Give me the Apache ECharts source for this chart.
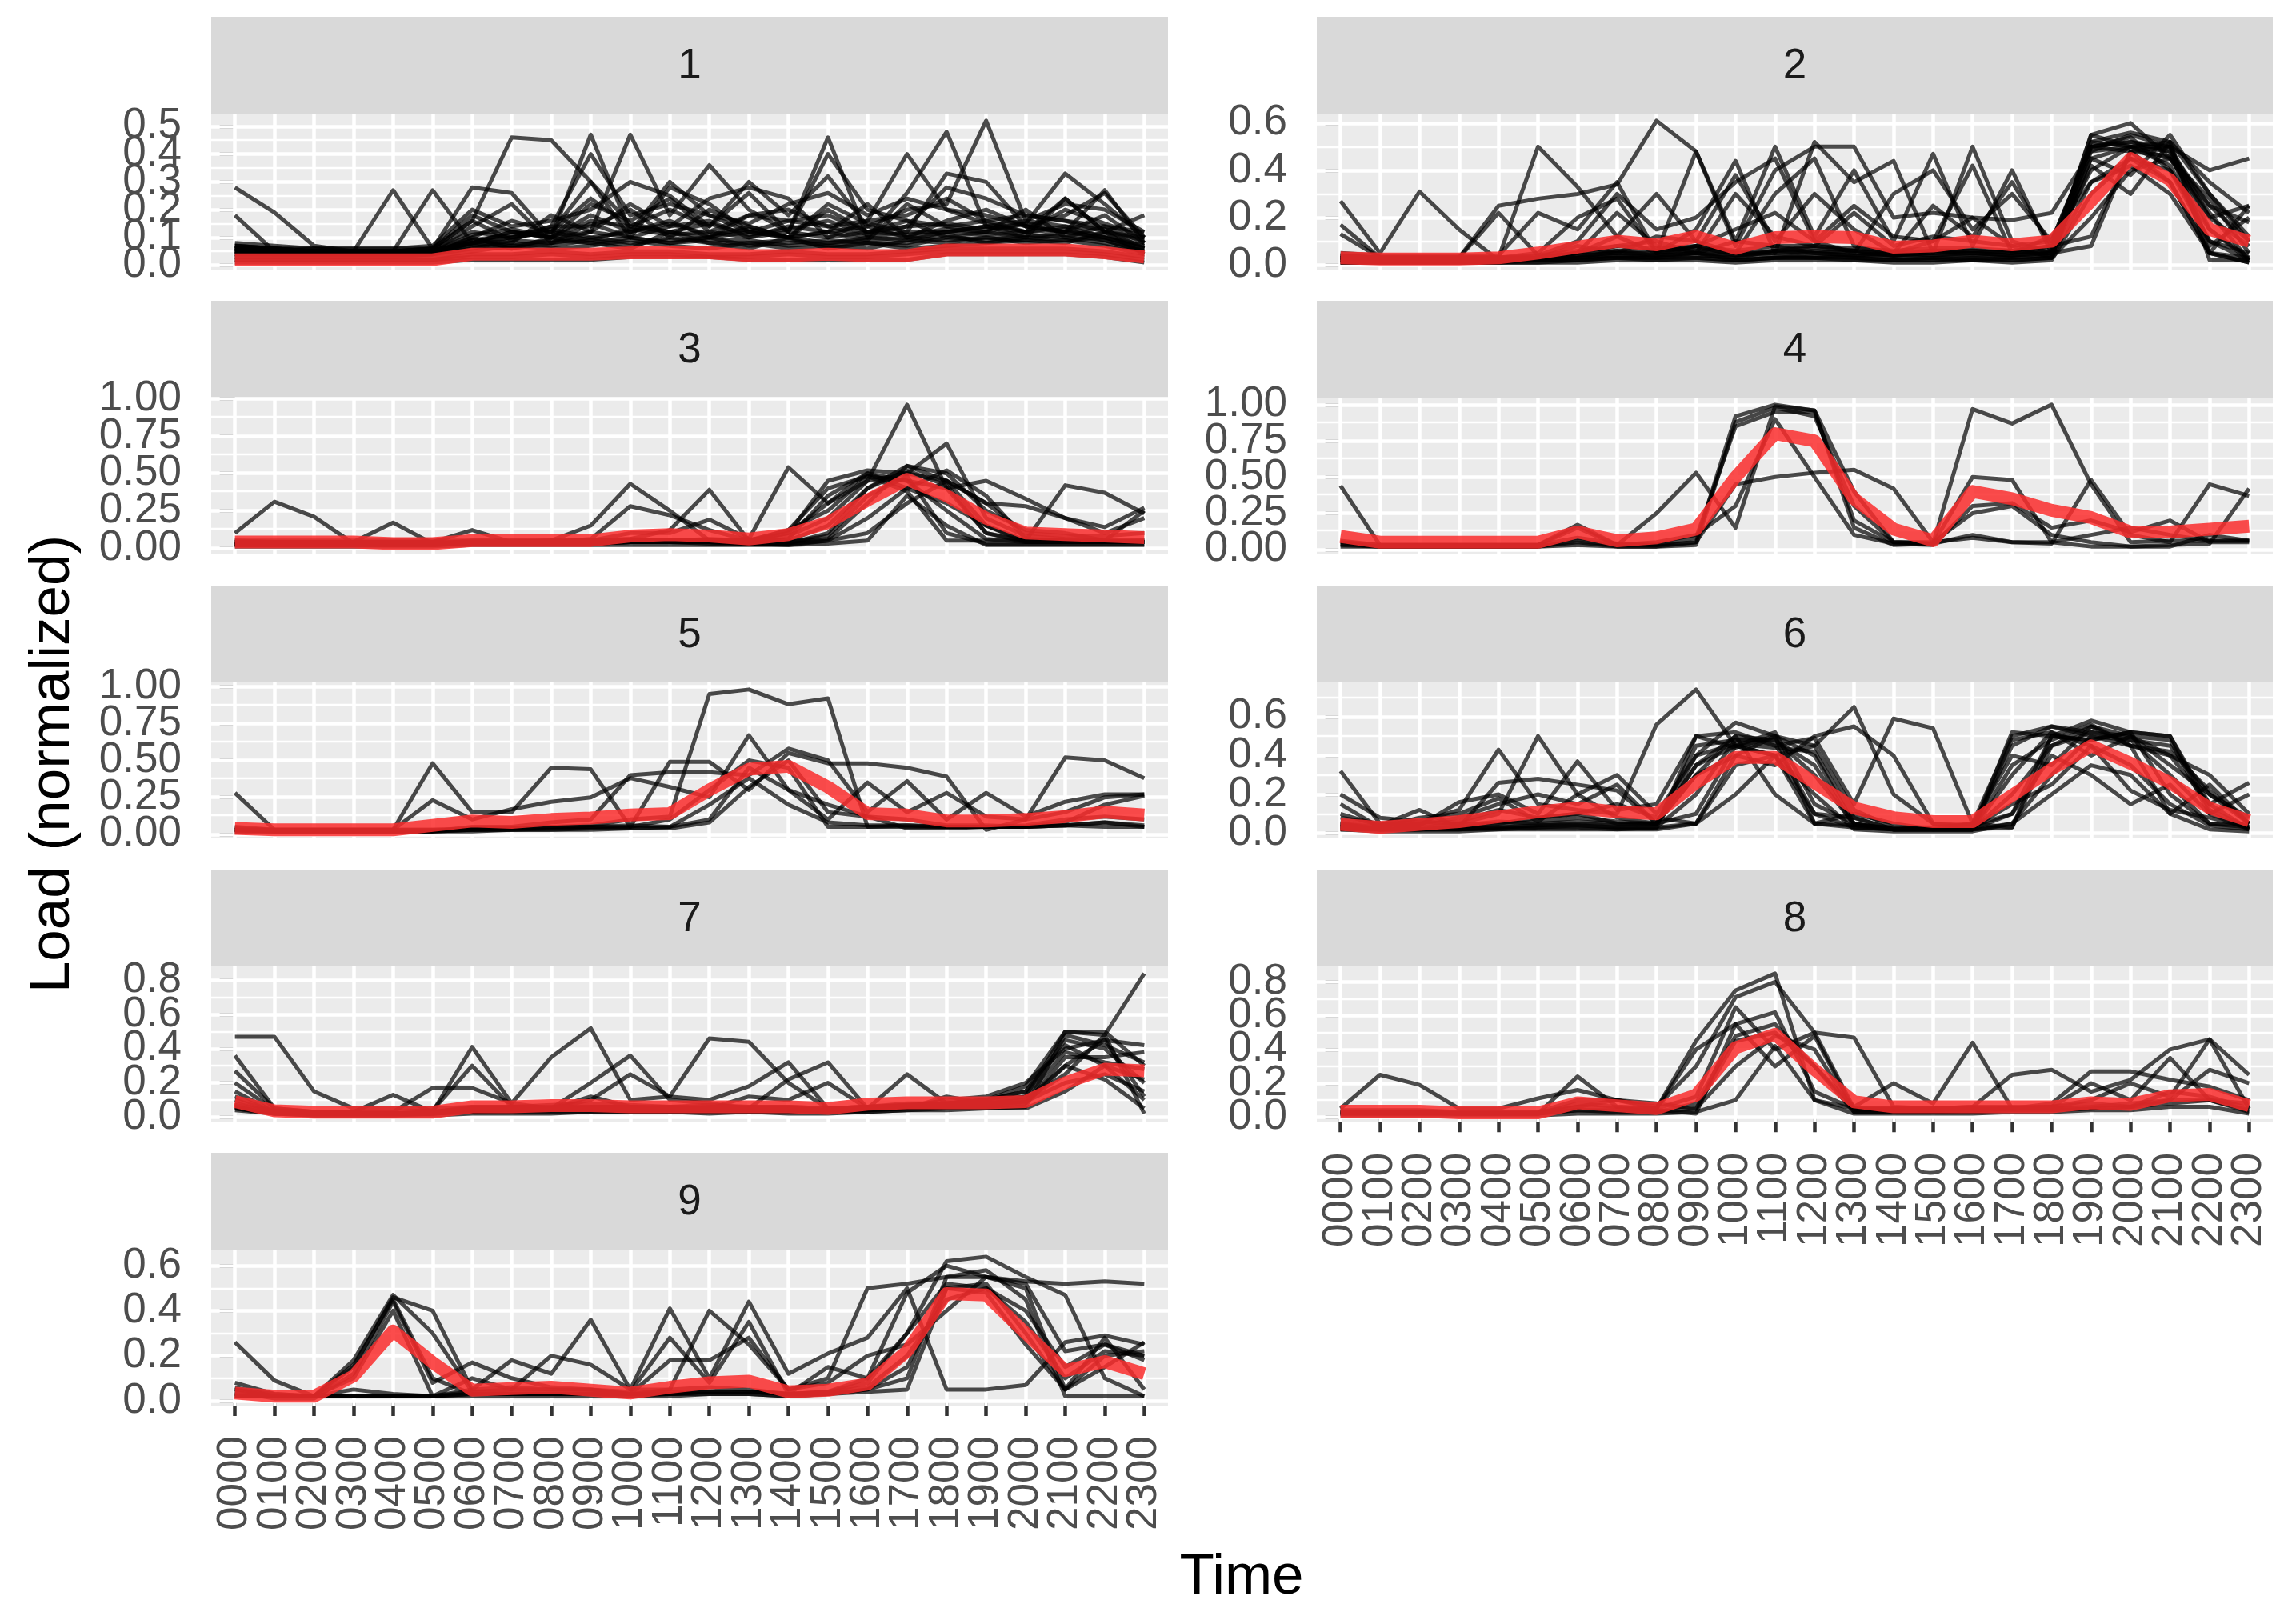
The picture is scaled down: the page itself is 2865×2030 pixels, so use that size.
<!DOCTYPE html>
<html>
<head>
<meta charset="utf-8">
<script src="https://cdn.jsdelivr.net/npm/echarts@6/dist/echarts.min.js"></script>
<style>
html,body{margin:0;padding:0;background:#ffffff;}
#chart{width:2865px;height:2030px;}
</style>
</head>
<body>
<div id="chart"></div>
<script>
// ---------------- data ----------------
const hours = ['0000','0100','0200','0300','0400','0500','0600','0700','0800','0900','1000','1100',
               '1200','1300','1400','1500','1600','1700','1800','1900','2000','2100','2200','2300'];
const clusterNames = ['1','2','3','4','5','6','7','8','9'];

const c1Lines = [
  [0.28,0.19,0.07,0.05,0.05,0.05,0.08,0.10,0.12,0.30,0.15,0.12,0.10,0.14,0.10,0.12,0.09,0.22,0.14,0.12,0.15,0.33,0.22,0.10],
  [0.18,0.05,0.06,0.05,0.05,0.06,0.28,0.26,0.10,0.47,0.12,0.30,0.18,0.12,0.10,0.22,0.15,0.12,0.33,0.30,0.14,0.12,0.27,0.08],
  [0.06,0.05,0.05,0.05,0.27,0.06,0.16,0.46,0.45,0.30,0.10,0.14,0.24,0.28,0.24,0.10,0.16,0.40,0.20,0.15,0.12,0.20,0.15,0.10],
  [0.07,0.06,0.05,0.05,0.05,0.27,0.08,0.12,0.10,0.12,0.47,0.18,0.36,0.20,0.12,0.46,0.10,0.26,0.48,0.14,0.10,0.24,0.12,0.18],
  [0.08,0.07,0.06,0.06,0.06,0.07,0.20,0.14,0.16,0.20,0.30,0.25,0.14,0.30,0.18,0.32,0.14,0.20,0.22,0.52,0.16,0.22,0.20,0.12],
  [0.06,0.06,0.05,0.05,0.05,0.06,0.12,0.10,0.14,0.40,0.18,0.22,0.18,0.15,0.22,0.26,0.18,0.24,0.20,0.18,0.14,0.18,0.26,0.10],
  [0.05,0.05,0.04,0.04,0.04,0.05,0.14,0.22,0.08,0.15,0.10,0.28,0.22,0.12,0.16,0.18,0.12,0.14,0.28,0.24,0.18,0.16,0.14,0.08],
  [0.07,0.06,0.05,0.05,0.05,0.05,0.10,0.16,0.12,0.24,0.14,0.20,0.14,0.26,0.12,0.40,0.20,0.16,0.14,0.16,0.12,0.24,0.12,0.09],
  [0.06,0.05,0.05,0.05,0.05,0.05,0.09,0.08,0.18,0.12,0.22,0.14,0.16,0.10,0.14,0.12,0.22,0.10,0.16,0.20,0.14,0.12,0.18,0.08],
  [0.05,0.05,0.04,0.04,0.04,0.05,0.08,0.12,0.10,0.18,0.12,0.16,0.10,0.18,0.16,0.14,0.10,0.12,0.12,0.14,0.16,0.14,0.10,0.07],
  [0.04,0.04,0.04,0.04,0.04,0.04,0.07,0.06,0.08,0.10,0.08,0.09,0.10,0.07,0.08,0.09,0.08,0.07,0.10,0.09,0.11,0.10,0.08,0.05],
  [0.03,0.03,0.03,0.03,0.03,0.03,0.05,0.07,0.06,0.07,0.09,0.07,0.06,0.08,0.06,0.07,0.06,0.09,0.08,0.10,0.08,0.09,0.07,0.04],
  [0.06,0.05,0.05,0.05,0.05,0.05,0.08,0.10,0.12,0.09,0.13,0.11,0.12,0.10,0.12,0.10,0.12,0.11,0.13,0.12,0.10,0.12,0.10,0.06],
  [0.01,0.01,0.01,0.01,0.01,0.01,0.02,0.02,0.02,0.02,0.03,0.03,0.03,0.02,0.02,0.02,0.02,0.02,0.04,0.04,0.04,0.04,0.03,0.01],
  [0.02,0.02,0.02,0.02,0.02,0.02,0.04,0.04,0.05,0.04,0.05,0.05,0.04,0.04,0.05,0.04,0.04,0.05,0.06,0.06,0.06,0.06,0.05,0.03],
  [0.05,0.04,0.04,0.04,0.04,0.04,0.06,0.09,0.08,0.12,0.10,0.08,0.10,0.12,0.10,0.08,0.10,0.09,0.12,0.11,0.12,0.13,0.09,0.05],
  [0.03,0.03,0.03,0.03,0.03,0.04,0.10,0.06,0.10,0.08,0.06,0.12,0.08,0.06,0.10,0.06,0.08,0.06,0.07,0.08,0.09,0.08,0.12,0.04],
  [0.07,0.06,0.05,0.05,0.05,0.06,0.16,0.09,0.14,0.14,0.20,0.10,0.20,0.14,0.10,0.20,0.12,0.16,0.10,0.12,0.20,0.10,0.14,0.12],
  [0.06,0.05,0.05,0.05,0.05,0.05,0.11,0.13,0.10,0.16,0.14,0.12,0.15,0.11,0.13,0.16,0.11,0.14,0.15,0.13,0.15,0.12,0.11,0.07],
  [0.05,0.05,0.05,0.05,0.05,0.05,0.09,0.11,0.13,0.10,0.12,0.15,0.11,0.13,0.10,0.12,0.14,0.10,0.12,0.14,0.12,0.14,0.13,0.06],
  [0.04,0.04,0.04,0.04,0.04,0.04,0.08,0.07,0.09,0.08,0.10,0.08,0.09,0.09,0.07,0.08,0.09,0.10,0.09,0.10,0.09,0.11,0.09,0.05],
  [0.05,0.05,0.05,0.05,0.05,0.05,0.07,0.08,0.07,0.09,0.07,0.10,0.08,0.08,0.09,0.07,0.08,0.08,0.11,0.08,0.10,0.09,0.10,0.06],
  [0.02,0.02,0.02,0.02,0.02,0.02,0.03,0.03,0.04,0.03,0.04,0.04,0.03,0.03,0.04,0.03,0.03,0.04,0.05,0.05,0.05,0.05,0.04,0.02],
  [0.06,0.06,0.06,0.06,0.06,0.06,0.18,0.12,0.10,0.22,0.16,0.24,0.12,0.18,0.20,0.14,0.16,0.18,0.24,0.16,0.18,0.16,0.12,0.10]
];
const c1Mean = [0.02,0.02,0.02,0.02,0.02,0.02,0.04,0.04,0.04,0.04,0.045,0.045,0.045,0.035,0.035,0.04,0.035,0.035,0.055,0.055,0.055,0.055,0.045,0.03];

const c2Lines = [
  [0.27,0.05,0.31,0.15,0.02,0.02,0.05,0.08,0.10,0.05,0.10,0.08,0.05,0.06,0.04,0.05,0.06,0.05,0.08,0.40,0.50,0.42,0.10,0.05],
  [0.17,0.03,0.03,0.03,0.03,0.50,0.33,0.12,0.30,0.10,0.38,0.10,0.30,0.15,0.05,0.10,0.20,0.08,0.10,0.50,0.52,0.50,0.15,0.02],
  [0.13,0.03,0.03,0.03,0.25,0.28,0.30,0.34,0.61,0.48,0.08,0.40,0.50,0.50,0.20,0.22,0.20,0.19,0.22,0.48,0.50,0.50,0.40,0.45],
  [0.05,0.04,0.04,0.04,0.04,0.22,0.15,0.35,0.05,0.48,0.10,0.50,0.12,0.40,0.10,0.47,0.08,0.40,0.05,0.55,0.60,0.45,0.20,0.25],
  [0.04,0.03,0.03,0.03,0.03,0.05,0.20,0.28,0.05,0.15,0.44,0.05,0.52,0.35,0.44,0.05,0.50,0.10,0.05,0.45,0.38,0.55,0.30,0.10],
  [0.03,0.03,0.03,0.03,0.22,0.04,0.10,0.30,0.15,0.20,0.35,0.45,0.10,0.05,0.30,0.40,0.15,0.30,0.10,0.50,0.48,0.35,0.05,0.25],
  [0.04,0.03,0.03,0.03,0.03,0.03,0.05,0.12,0.05,0.08,0.15,0.22,0.10,0.25,0.12,0.10,0.42,0.05,0.12,0.35,0.45,0.40,0.10,0.02],
  [0.02,0.02,0.02,0.02,0.02,0.03,0.08,0.05,0.12,0.10,0.05,0.30,0.45,0.08,0.05,0.25,0.12,0.35,0.08,0.52,0.56,0.52,0.02,0.02],
  [0.03,0.03,0.03,0.03,0.03,0.03,0.05,0.22,0.08,0.05,0.30,0.12,0.08,0.22,0.08,0.12,0.10,0.08,0.03,0.35,0.42,0.30,0.05,0.03],
  [0.03,0.02,0.02,0.02,0.02,0.02,0.03,0.06,0.04,0.08,0.04,0.06,0.08,0.06,0.04,0.06,0.05,0.06,0.04,0.45,0.50,0.48,0.25,0.18],
  [0.02,0.02,0.02,0.02,0.02,0.03,0.04,0.05,0.04,0.05,0.03,0.06,0.05,0.04,0.05,0.04,0.05,0.04,0.06,0.50,0.52,0.48,0.05,0.01],
  [0.01,0.01,0.01,0.01,0.01,0.01,0.02,0.04,0.03,0.05,0.02,0.03,0.04,0.03,0.02,0.03,0.02,0.03,0.03,0.20,0.40,0.45,0.22,0.02],
  [0.02,0.02,0.02,0.02,0.02,0.02,0.03,0.03,0.03,0.04,0.03,0.04,0.03,0.04,0.03,0.03,0.04,0.03,0.04,0.42,0.30,0.52,0.30,0.12],
  [0.03,0.03,0.03,0.03,0.03,0.03,0.04,0.05,0.05,0.06,0.05,0.05,0.06,0.05,0.04,0.05,0.05,0.04,0.05,0.08,0.48,0.50,0.08,0.20],
  [0.01,0.01,0.01,0.01,0.01,0.01,0.01,0.02,0.02,0.02,0.01,0.02,0.02,0.02,0.01,0.01,0.02,0.01,0.02,0.30,0.45,0.35,0.05,0.01],
  [0.02,0.02,0.02,0.02,0.02,0.02,0.02,0.03,0.03,0.03,0.02,0.03,0.03,0.02,0.02,0.02,0.02,0.02,0.03,0.55,0.50,0.45,0.28,0.05],
  [0.02,0.02,0.02,0.02,0.02,0.02,0.03,0.04,0.04,0.05,0.04,0.05,0.05,0.04,0.04,0.04,0.04,0.04,0.05,0.48,0.55,0.50,0.20,0.08],
  [0.03,0.03,0.03,0.03,0.03,0.03,0.05,0.06,0.06,0.07,0.05,0.06,0.07,0.06,0.05,0.06,0.06,0.05,0.06,0.52,0.50,0.52,0.35,0.22],
  [0.01,0.01,0.01,0.01,0.01,0.02,0.02,0.03,0.02,0.03,0.02,0.03,0.03,0.03,0.02,0.02,0.03,0.02,0.03,0.50,0.54,0.40,0.15,0.03],
  [0.04,0.03,0.03,0.03,0.03,0.04,0.06,0.08,0.07,0.08,0.06,0.08,0.08,0.07,0.06,0.07,0.07,0.06,0.08,0.12,0.48,0.46,0.25,0.10]
];
const c2Mean = [0.03,0.025,0.025,0.025,0.03,0.05,0.075,0.10,0.085,0.12,0.07,0.115,0.12,0.115,0.075,0.08,0.10,0.085,0.10,0.27,0.45,0.36,0.15,0.10];

const c3Lines = [
  [0.10,0.31,0.21,0.03,0.03,0.03,0.04,0.04,0.05,0.05,0.06,0.05,0.06,0.05,0.10,0.30,0.50,0.40,0.30,0.15,0.05,0.42,0.37,0.23],
  [0.05,0.04,0.04,0.04,0.17,0.03,0.04,0.04,0.05,0.15,0.43,0.25,0.05,0.06,0.54,0.30,0.45,0.96,0.40,0.10,0.04,0.04,0.04,0.05],
  [0.04,0.04,0.04,0.04,0.04,0.04,0.12,0.04,0.04,0.06,0.28,0.22,0.12,0.05,0.10,0.45,0.52,0.50,0.70,0.20,0.08,0.06,0.05,0.05],
  [0.03,0.03,0.03,0.03,0.03,0.03,0.05,0.05,0.05,0.05,0.06,0.12,0.39,0.05,0.12,0.25,0.48,0.45,0.40,0.45,0.33,0.20,0.14,0.27],
  [0.04,0.04,0.04,0.04,0.04,0.04,0.04,0.04,0.04,0.05,0.10,0.10,0.19,0.06,0.05,0.15,0.40,0.55,0.50,0.25,0.12,0.10,0.05,0.25],
  [0.02,0.02,0.02,0.02,0.02,0.02,0.03,0.03,0.03,0.03,0.04,0.04,0.04,0.03,0.02,0.05,0.20,0.40,0.52,0.35,0.06,0.05,0.05,0.04],
  [0.03,0.03,0.03,0.03,0.03,0.03,0.03,0.03,0.03,0.03,0.04,0.04,0.04,0.03,0.04,0.08,0.35,0.48,0.10,0.03,0.03,0.03,0.03,0.03],
  [0.02,0.02,0.02,0.02,0.02,0.02,0.03,0.03,0.03,0.03,0.04,0.04,0.03,0.03,0.03,0.05,0.10,0.30,0.45,0.30,0.10,0.08,0.08,0.10],
  [0.05,0.05,0.05,0.05,0.05,0.05,0.05,0.05,0.05,0.05,0.05,0.05,0.05,0.05,0.12,0.40,0.48,0.38,0.05,0.05,0.05,0.05,0.04,0.04],
  [0.03,0.03,0.03,0.03,0.03,0.03,0.03,0.04,0.04,0.04,0.05,0.05,0.05,0.04,0.08,0.20,0.45,0.50,0.45,0.15,0.04,0.04,0.04,0.04],
  [0.01,0.01,0.01,0.01,0.01,0.01,0.02,0.02,0.02,0.02,0.02,0.02,0.02,0.02,0.02,0.03,0.05,0.35,0.15,0.02,0.02,0.02,0.02,0.02],
  [0.03,0.03,0.03,0.03,0.03,0.03,0.04,0.04,0.04,0.04,0.05,0.05,0.05,0.04,0.04,0.06,0.30,0.55,0.45,0.30,0.28,0.20,0.10,0.20],
  [0.03,0.03,0.03,0.03,0.03,0.03,0.04,0.04,0.04,0.04,0.05,0.05,0.05,0.04,0.06,0.35,0.50,0.45,0.25,0.06,0.04,0.04,0.04,0.04],
  [0.02,0.02,0.02,0.02,0.02,0.02,0.03,0.03,0.03,0.03,0.04,0.04,0.04,0.03,0.03,0.10,0.40,0.52,0.42,0.10,0.05,0.05,0.05,0.05]
];
const c3Mean = [0.04,0.04,0.04,0.04,0.03,0.03,0.05,0.05,0.05,0.05,0.08,0.09,0.08,0.06,0.09,0.17,0.32,0.46,0.35,0.20,0.10,0.09,0.08,0.07];

const c4Lines = [
  [0.44,0.03,0.03,0.03,0.03,0.03,0.15,0.03,0.25,0.53,0.15,0.99,0.96,0.40,0.05,0.04,0.10,0.05,0.04,0.48,0.10,0.05,0.45,0.37],
  [0.05,0.03,0.03,0.03,0.03,0.03,0.17,0.03,0.03,0.05,0.92,1.00,0.96,0.15,0.03,0.04,0.50,0.48,0.05,0.02,0.02,0.03,0.04,0.42],
  [0.03,0.02,0.02,0.02,0.02,0.02,0.05,0.02,0.02,0.05,0.45,0.50,0.53,0.55,0.42,0.05,0.25,0.30,0.10,0.05,0.02,0.02,0.10,0.06],
  [0.02,0.02,0.02,0.02,0.02,0.02,0.03,0.02,0.02,0.03,0.88,0.98,0.92,0.30,0.05,0.04,0.97,0.87,1.00,0.45,0.05,0.06,0.06,0.06],
  [0.06,0.03,0.03,0.03,0.03,0.03,0.08,0.04,0.03,0.08,0.85,0.95,0.95,0.20,0.05,0.05,0.08,0.05,0.05,0.10,0.15,0.10,0.06,0.06],
  [0.04,0.02,0.02,0.02,0.02,0.02,0.06,0.03,0.05,0.10,0.30,0.90,0.50,0.10,0.04,0.03,0.30,0.32,0.15,0.20,0.12,0.20,0.05,0.05]
];
const c4Mean = [0.09,0.05,0.05,0.05,0.05,0.05,0.12,0.06,0.08,0.14,0.50,0.80,0.75,0.35,0.14,0.06,0.40,0.35,0.27,0.22,0.12,0.12,0.14,0.16];

const c5Lines = [
  [0.28,0.03,0.03,0.03,0.03,0.03,0.03,0.04,0.05,0.06,0.10,0.12,0.95,0.98,0.88,0.92,0.05,0.05,0.05,0.05,0.05,0.06,0.05,0.05],
  [0.05,0.03,0.03,0.03,0.03,0.48,0.15,0.15,0.45,0.44,0.05,0.49,0.49,0.30,0.55,0.48,0.48,0.45,0.39,0.03,0.10,0.52,0.50,0.38],
  [0.04,0.03,0.03,0.03,0.03,0.23,0.10,0.17,0.22,0.25,0.38,0.32,0.25,0.67,0.30,0.10,0.35,0.15,0.28,0.12,0.10,0.15,0.25,0.27],
  [0.03,0.02,0.02,0.02,0.02,0.02,0.05,0.05,0.08,0.10,0.40,0.42,0.42,0.40,0.58,0.50,0.15,0.36,0.10,0.28,0.12,0.22,0.27,0.27],
  [0.03,0.02,0.02,0.02,0.02,0.02,0.03,0.03,0.04,0.05,0.05,0.10,0.30,0.50,0.45,0.05,0.05,0.06,0.05,0.05,0.05,0.06,0.08,0.05],
  [0.02,0.02,0.02,0.02,0.02,0.02,0.03,0.03,0.03,0.04,0.04,0.05,0.20,0.38,0.20,0.08,0.06,0.06,0.05,0.05,0.05,0.06,0.08,0.06],
  [0.03,0.03,0.03,0.03,0.03,0.03,0.04,0.04,0.05,0.05,0.06,0.05,0.10,0.45,0.30,0.20,0.12,0.04,0.04,0.05,0.06,0.10,0.12,0.10],
  [0.02,0.02,0.02,0.02,0.02,0.02,0.02,0.03,0.03,0.03,0.04,0.04,0.08,0.32,0.50,0.15,0.12,0.10,0.06,0.06,0.05,0.08,0.20,0.26]
];
const c5Mean = [0.04,0.03,0.03,0.03,0.03,0.06,0.09,0.08,0.10,0.11,0.13,0.14,0.30,0.44,0.46,0.32,0.14,0.13,0.09,0.09,0.10,0.12,0.15,0.13];

const c6Lines = [
  [0.32,0.05,0.06,0.12,0.43,0.15,0.12,0.10,0.56,0.74,0.45,0.40,0.05,0.04,0.03,0.03,0.05,0.50,0.55,0.50,0.48,0.45,0.20,0.05],
  [0.20,0.08,0.06,0.05,0.10,0.50,0.20,0.30,0.10,0.40,0.57,0.50,0.45,0.65,0.20,0.05,0.04,0.10,0.50,0.58,0.52,0.50,0.15,0.26],
  [0.15,0.03,0.04,0.16,0.20,0.10,0.37,0.12,0.15,0.50,0.52,0.45,0.49,0.15,0.59,0.54,0.05,0.03,0.45,0.55,0.45,0.10,0.25,0.05],
  [0.10,0.04,0.12,0.03,0.26,0.28,0.25,0.22,0.05,0.35,0.45,0.52,0.15,0.05,0.02,0.02,0.02,0.48,0.52,0.40,0.50,0.40,0.30,0.10],
  [0.05,0.02,0.03,0.05,0.05,0.08,0.10,0.05,0.05,0.45,0.48,0.46,0.10,0.03,0.02,0.02,0.02,0.20,0.45,0.52,0.48,0.30,0.10,0.20],
  [0.08,0.05,0.05,0.08,0.15,0.20,0.15,0.25,0.05,0.30,0.40,0.35,0.50,0.55,0.40,0.05,0.03,0.15,0.25,0.45,0.22,0.12,0.08,0.03],
  [0.03,0.02,0.02,0.02,0.03,0.04,0.04,0.03,0.03,0.05,0.40,0.50,0.40,0.05,0.02,0.02,0.02,0.05,0.30,0.50,0.45,0.40,0.15,0.02],
  [0.06,0.03,0.08,0.10,0.18,0.06,0.20,0.08,0.05,0.30,0.50,0.20,0.05,0.10,0.05,0.02,0.02,0.10,0.40,0.30,0.15,0.25,0.05,0.05],
  [0.04,0.02,0.02,0.03,0.03,0.04,0.05,0.04,0.05,0.10,0.45,0.40,0.45,0.12,0.03,0.02,0.02,0.03,0.50,0.48,0.52,0.50,0.12,0.03],
  [0.02,0.02,0.02,0.02,0.02,0.03,0.03,0.02,0.03,0.20,0.48,0.48,0.30,0.05,0.02,0.02,0.02,0.30,0.52,0.45,0.35,0.15,0.04,0.02],
  [0.05,0.03,0.05,0.06,0.12,0.08,0.10,0.15,0.08,0.05,0.20,0.40,0.10,0.08,0.02,0.02,0.05,0.40,0.35,0.55,0.50,0.35,0.20,0.08],
  [0.02,0.01,0.01,0.01,0.02,0.02,0.02,0.02,0.02,0.05,0.35,0.40,0.20,0.02,0.01,0.01,0.01,0.05,0.20,0.35,0.30,0.10,0.02,0.01],
  [0.03,0.02,0.02,0.03,0.05,0.06,0.08,0.06,0.05,0.35,0.50,0.48,0.35,0.04,0.02,0.02,0.02,0.45,0.55,0.52,0.50,0.48,0.10,0.02],
  [0.04,0.02,0.03,0.04,0.06,0.05,0.06,0.05,0.05,0.40,0.46,0.44,0.42,0.08,0.02,0.02,0.02,0.35,0.48,0.56,0.45,0.42,0.22,0.05],
  [0.02,0.02,0.02,0.02,0.03,0.03,0.04,0.03,0.03,0.50,0.44,0.50,0.05,0.03,0.02,0.02,0.02,0.52,0.50,0.48,0.52,0.20,0.05,0.03]
];
const c6Mean = [0.045,0.03,0.045,0.06,0.085,0.11,0.13,0.11,0.10,0.26,0.39,0.39,0.26,0.13,0.08,0.06,0.06,0.195,0.33,0.45,0.36,0.26,0.13,0.065];

const c7Lines = [
  [0.47,0.47,0.15,0.05,0.05,0.05,0.06,0.06,0.07,0.08,0.07,0.06,0.07,0.06,0.06,0.05,0.06,0.07,0.08,0.10,0.12,0.50,0.48,0.84],
  [0.36,0.05,0.03,0.03,0.13,0.03,0.41,0.08,0.35,0.52,0.10,0.12,0.46,0.44,0.20,0.05,0.06,0.08,0.08,0.10,0.15,0.45,0.40,0.20],
  [0.27,0.05,0.03,0.03,0.03,0.17,0.17,0.08,0.05,0.20,0.36,0.10,0.08,0.05,0.22,0.32,0.05,0.25,0.08,0.10,0.18,0.50,0.50,0.30],
  [0.20,0.04,0.03,0.03,0.03,0.04,0.30,0.06,0.05,0.10,0.25,0.12,0.10,0.18,0.32,0.05,0.06,0.06,0.10,0.12,0.20,0.40,0.45,0.42],
  [0.15,0.03,0.02,0.02,0.02,0.03,0.05,0.04,0.05,0.12,0.06,0.05,0.05,0.12,0.10,0.20,0.05,0.05,0.12,0.08,0.10,0.30,0.45,0.12],
  [0.10,0.03,0.02,0.02,0.02,0.02,0.04,0.05,0.04,0.05,0.05,0.06,0.05,0.05,0.05,0.04,0.05,0.06,0.07,0.08,0.10,0.25,0.48,0.02],
  [0.05,0.02,0.01,0.01,0.01,0.01,0.02,0.02,0.02,0.03,0.03,0.03,0.02,0.03,0.02,0.02,0.03,0.04,0.04,0.05,0.05,0.15,0.30,0.22],
  [0.08,0.03,0.02,0.02,0.02,0.02,0.04,0.04,0.04,0.04,0.04,0.04,0.04,0.04,0.04,0.03,0.04,0.05,0.06,0.06,0.08,0.35,0.35,0.38],
  [0.12,0.03,0.02,0.02,0.02,0.03,0.05,0.05,0.05,0.06,0.06,0.05,0.05,0.05,0.05,0.04,0.05,0.06,0.07,0.07,0.09,0.20,0.25,0.15],
  [0.06,0.02,0.02,0.02,0.02,0.02,0.03,0.03,0.03,0.03,0.03,0.03,0.03,0.03,0.03,0.03,0.03,0.04,0.05,0.05,0.06,0.48,0.42,0.32],
  [0.07,0.03,0.02,0.02,0.02,0.03,0.06,0.06,0.06,0.06,0.06,0.06,0.06,0.06,0.06,0.05,0.06,0.07,0.08,0.10,0.15,0.42,0.30,0.10],
  [0.05,0.02,0.02,0.02,0.02,0.02,0.05,0.05,0.05,0.05,0.05,0.05,0.05,0.05,0.05,0.04,0.05,0.06,0.07,0.08,0.12,0.38,0.32,0.28],
  [0.04,0.02,0.01,0.01,0.01,0.02,0.03,0.04,0.04,0.04,0.04,0.04,0.04,0.04,0.04,0.03,0.04,0.05,0.06,0.06,0.08,0.30,0.22,0.05]
];
const c7Mean = [0.09,0.036,0.028,0.028,0.028,0.028,0.06,0.06,0.067,0.067,0.06,0.06,0.06,0.06,0.06,0.05,0.075,0.083,0.083,0.083,0.09,0.20,0.28,0.27];

const c8Lines = [
  [0.05,0.25,0.19,0.05,0.05,0.11,0.16,0.10,0.08,0.05,0.45,0.50,0.30,0.06,0.20,0.08,0.44,0.05,0.06,0.10,0.20,0.12,0.46,0.05],
  [0.03,0.03,0.03,0.02,0.02,0.02,0.24,0.06,0.05,0.45,0.75,0.85,0.10,0.05,0.05,0.05,0.06,0.25,0.28,0.15,0.22,0.40,0.46,0.25],
  [0.04,0.04,0.04,0.03,0.03,0.03,0.10,0.10,0.06,0.30,0.71,0.80,0.50,0.47,0.06,0.05,0.05,0.05,0.08,0.27,0.27,0.22,0.18,0.10],
  [0.02,0.02,0.02,0.02,0.02,0.02,0.06,0.10,0.05,0.12,0.65,0.40,0.50,0.05,0.05,0.05,0.06,0.06,0.06,0.20,0.10,0.35,0.10,0.08],
  [0.03,0.03,0.03,0.02,0.02,0.02,0.08,0.06,0.05,0.40,0.55,0.30,0.48,0.04,0.04,0.04,0.05,0.05,0.05,0.05,0.06,0.10,0.28,0.20],
  [0.02,0.02,0.02,0.02,0.02,0.02,0.04,0.03,0.03,0.05,0.30,0.48,0.40,0.03,0.03,0.03,0.04,0.05,0.05,0.06,0.08,0.10,0.10,0.03],
  [0.01,0.01,0.01,0.01,0.01,0.01,0.02,0.02,0.02,0.03,0.10,0.42,0.10,0.02,0.02,0.02,0.02,0.03,0.03,0.04,0.04,0.06,0.06,0.02],
  [0.03,0.03,0.03,0.03,0.03,0.03,0.06,0.05,0.04,0.02,0.55,0.62,0.15,0.05,0.05,0.05,0.05,0.05,0.06,0.08,0.06,0.15,0.12,0.05],
  [0.02,0.02,0.02,0.02,0.02,0.02,0.04,0.04,0.03,0.08,0.48,0.55,0.30,0.03,0.03,0.03,0.03,0.04,0.04,0.05,0.06,0.08,0.10,0.04]
];
const c8Mean = [0.034,0.034,0.034,0.025,0.025,0.025,0.084,0.067,0.05,0.13,0.41,0.49,0.28,0.09,0.06,0.06,0.06,0.06,0.06,0.084,0.075,0.126,0.134,0.067];

const c9Lines = [
  [0.26,0.09,0.02,0.02,0.02,0.02,0.05,0.06,0.05,0.05,0.03,0.05,0.06,0.05,0.03,0.04,0.10,0.48,0.60,0.55,0.52,0.22,0.25,0.20],
  [0.08,0.03,0.02,0.15,0.46,0.40,0.05,0.18,0.12,0.36,0.05,0.41,0.10,0.44,0.12,0.21,0.28,0.50,0.05,0.05,0.07,0.26,0.29,0.25],
  [0.06,0.02,0.02,0.18,0.47,0.30,0.04,0.05,0.20,0.16,0.05,0.05,0.40,0.25,0.05,0.10,0.50,0.52,0.55,0.55,0.53,0.52,0.53,0.52],
  [0.04,0.01,0.01,0.12,0.44,0.08,0.17,0.10,0.06,0.05,0.04,0.28,0.08,0.35,0.03,0.15,0.10,0.30,0.62,0.64,0.55,0.47,0.10,0.02],
  [0.02,0.02,0.02,0.02,0.02,0.02,0.02,0.02,0.02,0.02,0.02,0.02,0.03,0.03,0.02,0.03,0.04,0.05,0.50,0.52,0.30,0.05,0.15,0.26],
  [0.05,0.03,0.02,0.10,0.40,0.02,0.10,0.05,0.05,0.05,0.03,0.18,0.18,0.28,0.05,0.08,0.20,0.25,0.40,0.55,0.50,0.05,0.28,0.05],
  [0.02,0.02,0.02,0.02,0.02,0.02,0.03,0.03,0.03,0.03,0.03,0.03,0.04,0.04,0.03,0.03,0.05,0.10,0.55,0.58,0.45,0.02,0.02,0.02],
  [0.03,0.02,0.02,0.05,0.03,0.02,0.04,0.04,0.04,0.04,0.03,0.04,0.04,0.04,0.03,0.04,0.06,0.20,0.45,0.50,0.35,0.10,0.22,0.20],
  [0.05,0.02,0.02,0.16,0.45,0.10,0.03,0.03,0.03,0.03,0.02,0.03,0.03,0.03,0.02,0.03,0.05,0.15,0.50,0.48,0.25,0.05,0.20,0.22],
  [0.02,0.02,0.02,0.02,0.02,0.02,0.03,0.03,0.03,0.03,0.03,0.03,0.04,0.04,0.03,0.04,0.08,0.30,0.52,0.50,0.40,0.15,0.25,0.18]
];
const c9Mean = [0.034,0.02,0.02,0.11,0.31,0.17,0.047,0.054,0.06,0.047,0.034,0.06,0.08,0.087,0.04,0.047,0.074,0.22,0.476,0.47,0.30,0.134,0.174,0.12];

// y-axis ticks and labels per cluster
const yTicks1 = [0,0.1,0.2,0.3,0.4,0.5];     const yLabels1 = ['0.0','0.1','0.2','0.3','0.4','0.5'];
const yTicks2 = [0,0.2,0.4,0.6];             const yLabels2 = ['0.0','0.2','0.4','0.6'];
const yTicks3 = [0,0.25,0.5,0.75,1];         const yLabels3 = ['0.00','0.25','0.50','0.75','1.00'];
const yTicks4 = [0,0.25,0.5,0.75,1];         const yLabels4 = ['0.00','0.25','0.50','0.75','1.00'];
const yTicks5 = [0,0.25,0.5,0.75,1];         const yLabels5 = ['0.00','0.25','0.50','0.75','1.00'];
const yTicks6 = [0,0.2,0.4,0.6];             const yLabels6 = ['0.0','0.2','0.4','0.6'];
const yTicks7 = [0,0.2,0.4,0.6,0.8];         const yLabels7 = ['0.0','0.2','0.4','0.6','0.8'];
const yTicks8 = [0,0.2,0.4,0.6,0.8];         const yLabels8 = ['0.0','0.2','0.4','0.6','0.8'];
const yTicks9 = [0,0.2,0.4,0.6];             const yLabels9 = ['0.0','0.2','0.4','0.6'];

const xTitle = 'Time';
const yTitle = 'Load (normalized)';

// ---------------- layout / style ----------------
const allLines = [c1Lines,c2Lines,c3Lines,c4Lines,c5Lines,c6Lines,c7Lines,c8Lines,c9Lines];
const allMeans = [c1Mean,c2Mean,c3Mean,c4Mean,c5Mean,c6Mean,c7Mean,c8Mean,c9Mean];
const allTicks = [yTicks1,yTicks2,yTicks3,yTicks4,yTicks5,yTicks6,yTicks7,yTicks8,yTicks9];
const allLabels = [yLabels1,yLabels2,yLabels3,yLabels4,yLabels5,yLabels6,yLabels7,yLabels8,yLabels9];

const FONT = '"Liberation Sans", Arial, sans-serif';
const colLeft = [264, 1646];
const colWidth = [1196, 1195];
const rowTop = [142, 497, 853, 1208, 1562];
const plotH = 195;
const stripH = 121;
const TICK_FS = 53;

const grids = [], xAxes = [], extraX = [], yAxes = [], series = [], graphics = [];
const hourIdx = hours.map((h, i) => i);
const evenHours = hourIdx.filter(i => i % 2 === 0);
const oddHours = hourIdx.filter(i => i % 2 === 1);

function labelFor(ticks, labels) {
  return v => { const k = ticks.findIndex(t => Math.abs(t - v) < 1e-9); return k >= 0 ? labels[k] : ''; };
}
function xLabelStyle(show, values) {
  return {show: show, customValues: values, rotate: 90, margin: 38, fontSize: TICK_FS,
    color: '#4D4D4D', fontFamily: FONT, hideOverlap: false, showMinLabel: true, showMaxLabel: true,
    interval: 0, formatter: v => hours[Math.round(v)]};
}

for (let p = 0; p < 9; p++) {
  const row = Math.floor(p / 2), col = p % 2;
  const left = colLeft[col], width = colWidth[col], top = rowTop[row];
  grids.push({left: left, top: top, width: width, height: plotH,
    show: true, backgroundColor: '#EBEBEB', borderWidth: 0, containLabel: false, outerBoundsMode: 'none'});

  // ggplot-like 5% expansion from data range
  let lo = Infinity, hi = -Infinity;
  allLines[p].forEach(a => a.forEach(v => { lo = Math.min(lo, v); hi = Math.max(hi, v); }));
  allMeans[p].forEach(v => { lo = Math.min(lo, v); hi = Math.max(hi, v); });
  const span = hi - lo;
  const yMin = lo - 0.05 * span, yMax = hi + 0.05 * span;

  const showX = (p === 7 || p === 8);
  xAxes.push({type: 'value', gridIndex: p, min: -0.6, max: 23.6, position: 'bottom',
    axisLine: {show: false}, splitLine: {show: false},
    axisTick: {show: showX, customValues: hourIdx.slice(), length: 19, lineStyle: {color: '#333333', width: 4.5}},
    axisLabel: xLabelStyle(showX, evenHours.slice())
  });
  if (showX) {
    // companion x axis carrying the odd-hour labels (avoids automatic hiding of overlapping labels)
    extraX.push({type: 'value', gridIndex: p, min: -0.6, max: 23.6, position: 'bottom', offset: 0,
      axisLine: {show: false}, splitLine: {show: false}, axisTick: {show: false},
      axisLabel: xLabelStyle(true, oddHours.slice())});
  }

  const ticks = allTicks[p], labels = allLabels[p];
  const evenT = ticks.filter((t, k) => k % 2 === 0);
  const oddT = ticks.filter((t, k) => k % 2 === 1);
  const fmt = labelFor(ticks, labels);
  yAxes.push({type: 'value', gridIndex: p, min: yMin, max: yMax, position: 'left',
    axisLine: {show: false}, splitLine: {show: false},
    axisTick: {show: true, customValues: ticks.slice(), length: 19, lineStyle: {color: '#333333', width: 4.5}},
    axisLabel: {show: true, customValues: evenT, margin: 37, fontSize: TICK_FS, color: '#4D4D4D',
      fontFamily: FONT, hideOverlap: false, showMinLabel: true, showMaxLabel: true, interval: 0, formatter: fmt}
  });
  yAxes.push({type: 'value', gridIndex: p, min: yMin, max: yMax, position: 'left', offset: 0,
    axisLine: {show: false}, splitLine: {show: false}, axisTick: {show: false},
    axisLabel: {show: oddT.length > 0, customValues: oddT.length ? oddT : evenT, margin: 37, fontSize: TICK_FS,
      color: '#4D4D4D', fontFamily: FONT, hideOverlap: false, showMinLabel: true, showMaxLabel: true,
      interval: 0, formatter: fmt}
  });
  const yi = 2 * p;

  // panel grid lines (major at ticks, minor half-way, vertical at each hour)
  const step = ticks[1] - ticks[0];
  const ml = [];
  for (let k = -1; k <= ticks.length; k++) {
    const minor = ticks[0] + (k + 0.5) * step;
    if (minor > yMin && minor < yMax) ml.push({yAxis: minor, lineStyle: {color: '#FFFFFF', width: 2.3, type: 'solid'}});
  }
  ticks.forEach(t => ml.push({yAxis: t, lineStyle: {color: '#FFFFFF', width: 4.5, type: 'solid'}}));
  hourIdx.forEach(i => ml.push({xAxis: i, lineStyle: {color: '#FFFFFF', width: 4.5, type: 'solid'}}));
  series.push({type: 'line', xAxisIndex: p, yAxisIndex: yi, data: [], silent: true, z: 1,
    markLine: {silent: true, z: 1, symbol: ['none', 'none'], label: {show: false}, animation: false,
      emphasis: {disabled: true}, data: ml}});

  allLines[p].forEach(arr => {
    series.push({type: 'line', xAxisIndex: p, yAxisIndex: yi, z: 2, silent: true,
      data: arr.map((v, i) => [i, v]), symbol: 'none', showSymbol: false,
      lineStyle: {color: 'rgba(0,0,0,0.7)', width: 5, join: 'round', cap: 'butt'},
      emphasis: {disabled: true}});
  });
  series.push({type: 'line', xAxisIndex: p, yAxisIndex: yi, z: 3, silent: true,
    data: allMeans[p].map((v, i) => [i, v]), symbol: 'none', showSymbol: false,
    lineStyle: {color: 'rgba(250,45,45,0.85)', width: 16, join: 'round', cap: 'butt'},
    emphasis: {disabled: true}});

  // facet strip
  graphics.push({type: 'rect', silent: true, shape: {x: left, y: top - stripH, width: width, height: stripH},
    style: {fill: '#D9D9D9'}});
  graphics.push({type: 'text', silent: true, x: left + width / 2, y: top - stripH / 2 + 2,
    style: {text: clusterNames[p], fontSize: TICK_FS, fill: '#1A1A1A', fontFamily: FONT,
      align: 'center', verticalAlign: 'middle'}});
}

graphics.push({type: 'text', silent: true, x: 1552, y: 1972,
  style: {text: xTitle, fontSize: 71, fill: '#000000', fontFamily: FONT, align: 'center', verticalAlign: 'middle'}});
graphics.push({type: 'text', silent: true, x: 66, y: 955, rotation: Math.PI / 2,
  style: {text: yTitle, fontSize: 71, fill: '#000000', fontFamily: FONT, align: 'center', verticalAlign: 'middle'}});

const chart = echarts.init(document.getElementById('chart'), null, {renderer: 'canvas'});
chart.setOption({
  animation: false,
  backgroundColor: '#FFFFFF',
  grid: grids, xAxis: xAxes.concat(extraX), yAxis: yAxes, series: series,
  graphic: {elements: graphics}
});
</script>
</body>
</html>
